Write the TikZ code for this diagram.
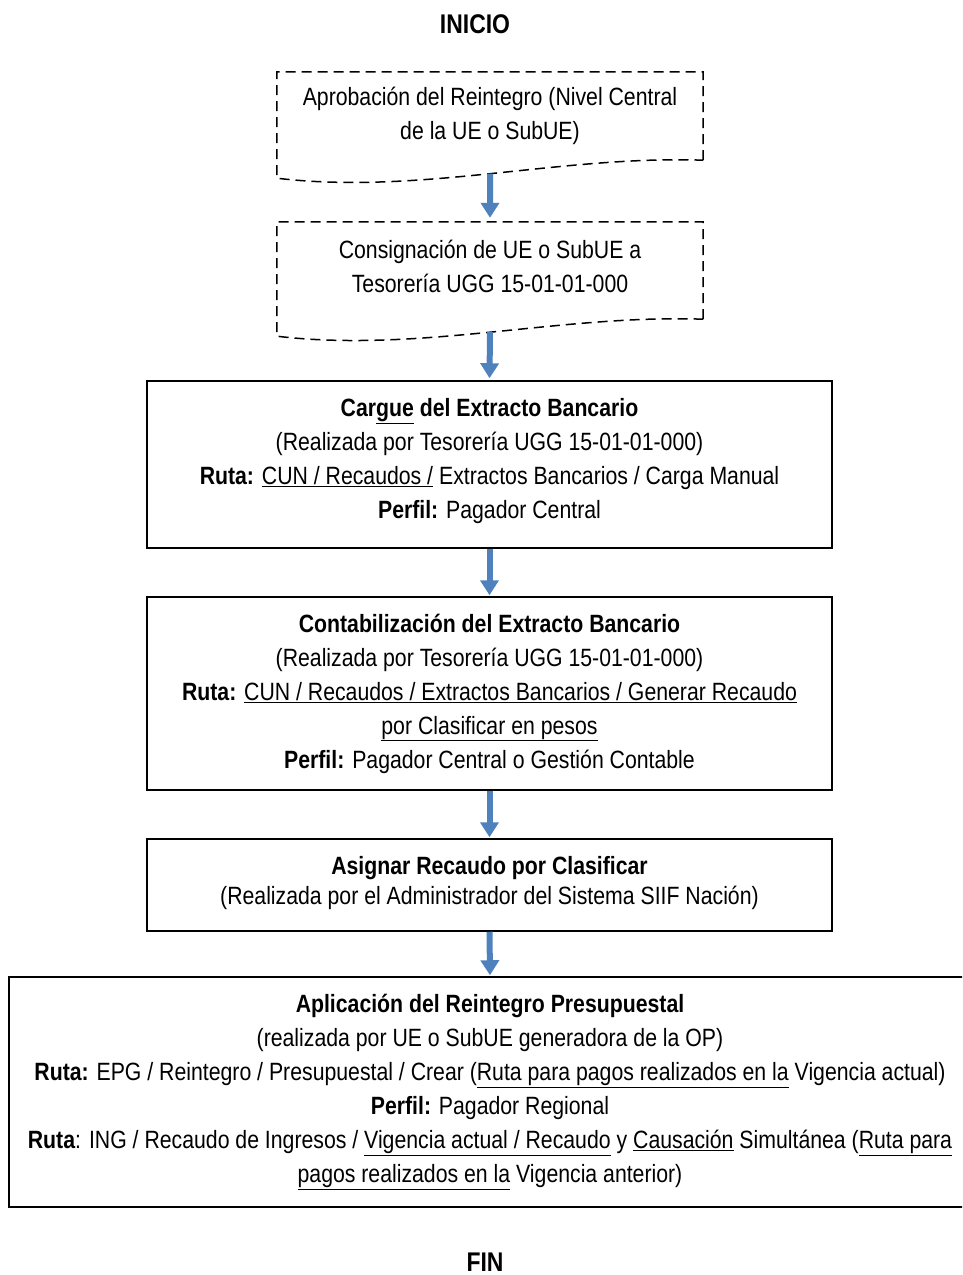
\documentclass[tikz,border=0pt]{standalone}
\usepackage{fontspec}
\setmainfont{Liberation Sans}[FakeStretch=0.85]
\usepackage{xcolor}
\usetikzlibrary{arrows.meta, positioning, calc}
\definecolor{flowblue}{HTML}{4F81BD}
\tikzset{
  stepbox/.style={
    draw, line width=1.5pt, align=center, inner sep=0pt,
    font=\fontsize{25}{34}\selectfont
  },
  docbox/.style={
    align=center, inner sep=0pt,
    font=\fontsize{25}{34}\selectfont
  },
  docline/.style={
    line width=1.5pt, dash pattern=on 10pt off 6pt
  },
  flowarrow/.style={
    -{Triangle[length=15pt, width=18pt]}, line width=6pt, color=flowblue
  },
  endlabel/.style={
    font=\fontsize{27}{30}\selectfont\bfseries
  },
}

\begin{document}
\begin{tikzpicture}[x=1pt, y=-1pt]
  \useasboundingbox (0,0) rectangle (962,1275);
  \clip (0,0) rectangle (962,1275);

  \node[endlabel] (inicio) at (475,24) {INICIO};

  % Documentos de entrada
  \node[docbox, minimum width=426pt, minimum height=88pt] (doc1) at (490,116)
    {Aprobación del Reintegro (Nivel Central\\de la UE o SubUE)};
  \draw[docline] (doc1.south east) -- (doc1.north east) -- (doc1.north west)
    -- ($(doc1.south west)+(0,18)$)
    .. controls ($(doc1.south west)+(143,35)$) and ($(doc1.south east)+(-143,-5)$)
    .. (doc1.south east) coordinate[pos=0.5] (doc1b);

  \node[docbox, minimum width=426pt, minimum height=89pt] (doc2) at (490,266.5)
    {Consignación de UE o SubUE a\\Tesorería UGG 15-01-01-000};
  \draw[docline] ($(doc2.south east)+(0,8)$) -- (doc2.north east) -- (doc2.north west)
    -- ($(doc2.south west)+(0,25)$)
    .. controls ($(doc2.south west)+(143,42)$) and ($(doc2.south east)+(-143,3)$)
    .. ($(doc2.south east)+(0,8)$) coordinate[pos=0.5] (doc2b);

  % Pasos en el SIIF
  \node[stepbox, minimum width=685pt, minimum height=167pt] (cargue) at (489.5,464.5)
    {\textbf{Car\underline{gue} del Extracto Bancario}\\
     (Realizada por Tesorería UGG 15-01-01-000)\\
     \textbf{Ruta:} \underline{CUN / Recaudos /} Extractos Bancarios / Carga Manual\\
     \textbf{Perfil:} Pagador Central\rule[-13pt]{0pt}{0pt}};

  \node[stepbox, minimum width=685pt, minimum height=193pt] (contab) at (489.5,693.5)
    {\textbf{Contabilización del Extracto Bancario}\\
     (Realizada por Tesorería UGG 15-01-01-000)\\
     \textbf{Ruta:} \underline{CUN / Recaudos / Extractos Bancarios / Generar Recaudo}\\
     \underline{por Clasificar en pesos}\\
     \textbf{Perfil:} Pagador Central o Gestión Contable};

  \node[stepbox, minimum width=685pt, minimum height=92pt,
    font=\fontsize{25}{30}\selectfont] (asignar) at (489.5,885)
    {\textbf{Asignar Recaudo por Clasificar}\\
     (Realizada por el Administrador del Sistema SIIF Nación)\rule[-10pt]{0pt}{0pt}};

  \node[stepbox, minimum width=962pt, minimum height=230pt] (aplica) at (490,1092)
    {\textbf{Aplicación del Reintegro Presupuestal}\\
     (realizada por UE o SubUE generadora de la OP)\\
     \textbf{Ruta:} EPG / Reintegro / Presupuestal / Crear (\underline{Ruta para pagos realizados en la} Vigencia actual)\\
     \textbf{Perfil:} Pagador Regional\\
     \textbf{Ruta}: ING / Recaudo de Ingresos / \underline{Vigencia actual / Recaudo} y \underline{Causación} Simultánea (\underline{Ruta para}\\
     \underline{pagos realizados en la} Vigencia anterior)};

  \node[endlabel] (fin) at (485,1262) {FIN};

  % Flechas
  \draw[flowarrow] (doc1b) -- ($(doc2.north)+(0,-4)$);
  \draw[flowarrow] (doc2b) -- ($(cargue.north)+(0,-2)$);
  \draw[flowarrow] (cargue.south) -- ($(contab.north)+(0,-1)$);
  \draw[flowarrow] (contab.south) -- ($(asignar.north)+(0,-1)$);
  \draw[flowarrow] (asignar.south) -- ($(aplica.north)+(0,-1)$);
\end{tikzpicture}
\end{document}
